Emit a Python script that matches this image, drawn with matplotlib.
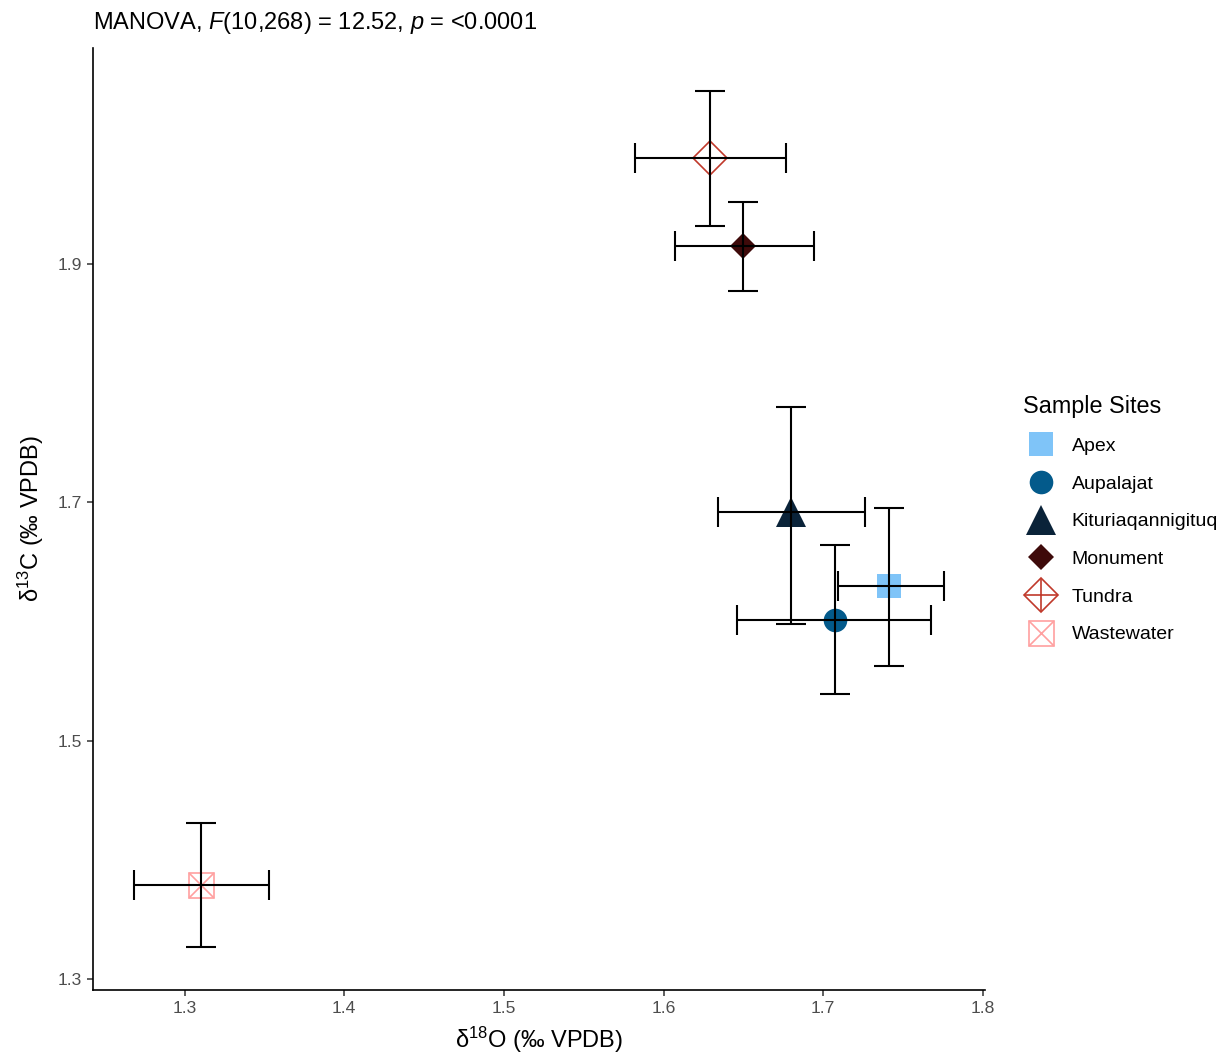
import matplotlib
matplotlib.use('Agg')
import matplotlib.pyplot as plt
from matplotlib.lines import Line2D

# site means and error bar extents
sites = ['Apex', 'Aupalajat', 'Kituriaqannigituq', 'Monument', 'Tundra', 'Wastewater']
d18o = [1.741, 1.7075, 1.680, 1.650, 1.629, 1.310]
d13c = [1.630, 1.601, 1.692, 1.915, 1.989, 1.379]
x_lo = [1.709, 1.646, 1.634, 1.607, 1.582, 1.268]
x_hi = [1.776, 1.7675, 1.726, 1.694, 1.677, 1.353]
y_lo = [1.563, 1.539, 1.598, 1.877, 1.932, 1.327]
y_hi = [1.695, 1.664, 1.780, 1.952, 2.045, 1.431]

colors = ['#7FC4F8', '#035A8B', '#0A2339', '#3E0A0A', '#C0392B', '#FFA0A0']
# (marker, size, filled) ; second entry is the overlay for the "open with cross" shapes
shapes = {
    'Apex': [('s', 17, True)],
    'Aupalajat': [('o', 17, True)],
    'Kituriaqannigituq': [('^', 21, True)],
    'Monument': [('D', 13, True)],
    'Tundra': [('D', 17, False), ('+', 24, False)],
    'Wastewater': [('s', 18, False), ('x', 18, False)],
}

plt.rcParams['font.family'] = ['Liberation Sans', 'DejaVu Sans']
plt.rcParams['mathtext.fontset'] = 'custom'
plt.rcParams['mathtext.rm'] = 'Liberation Sans'
plt.rcParams['mathtext.it'] = 'Liberation Sans:italic'

fig = plt.figure(figsize=(12.31, 10.64), dpi=100)
ax = fig.add_axes([93 / 1231, 1 - 990 / 1064, (985 - 93) / 1231, (990 - 48) / 1064])

handles = []
for i, s in enumerate(sites):
    parts = []
    for m, ms, filled in shapes[s]:
        kw = dict(marker=m, markersize=ms, linestyle='none', color=colors[i])
        if filled:
            kw.update(markeredgewidth=0)
        else:
            kw.update(markerfacecolor='none', markeredgewidth=1.2)
        ax.plot([d18o[i]], [d13c[i]], zorder=2, **kw)
        parts.append(Line2D([], [], **kw))
    handles.append(tuple(parts) if len(parts) > 1 else parts[0])

    ax.errorbar([d18o[i]], [d13c[i]],
                xerr=[[d18o[i] - x_lo[i]], [x_hi[i] - d18o[i]]],
                yerr=[[d13c[i] - y_lo[i]], [y_hi[i] - d13c[i]]],
                fmt='none', ecolor='black', elinewidth=1.5, capsize=10.5,
                capthick=1.5, zorder=3)

ax.margins(0.05)
ax.set_xticks([1.3, 1.4, 1.5, 1.6, 1.7, 1.8])
ax.set_yticks([1.3, 1.5, 1.7, 1.9])
for side in ['top', 'right']:
    ax.spines[side].set_visible(False)
for side in ['left', 'bottom']:
    ax.spines[side].set_linewidth(1.2)
ax.tick_params(length=4, width=1.1, color='#333333', labelcolor='#4D4D4D',
               labelsize=12.6, pad=4)

ax.set_xlabel('δ$^{18}$O (‰ VPDB)', fontsize=17, labelpad=6)
ax.set_ylabel('δ$^{13}$C (‰ VPDB)', fontsize=17, labelpad=8)
ax.set_title('MANOVA, $F$(10,268) = 12.52, $p$ = <0.0001', loc='left',
             fontsize=17, pad=14)

leg = ax.legend(handles, sites, title='Sample Sites', loc='center left',
                bbox_to_anchor=(1.034, 0.5), frameon=False, fontsize=14,
                title_fontsize=16.8, alignment='left', labelspacing=1.03,
                handlelength=1.8, handletextpad=0.7, borderaxespad=0)

fig.savefig('out.png', dpi=100)
